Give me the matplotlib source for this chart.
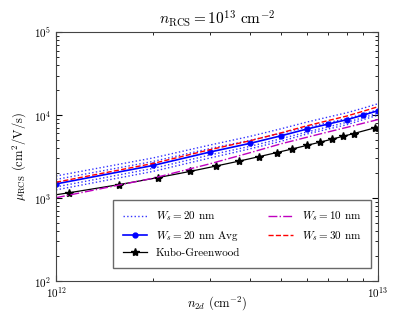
import numpy as np
import matplotlib
matplotlib.use('Agg')
import matplotlib.pyplot as plt
from matplotlib.ticker import NullFormatter

plt.rcParams['font.family'] = 'serif'
plt.rcParams['font.serif'] = ['cmr10']
plt.rcParams['mathtext.fontset'] = 'cm'
plt.rcParams['axes.formatter.use_mathtext'] = True
plt.rcParams['axes.unicode_minus'] = False

# densities (1e12 cm^-2)
n_avg = [1, 2, 3, 4, 5, 6, 7, 8, 9, 10]

# W_s = 20 nm, individual realizations
mu_20_runs = [
    [1845, 3041, 4345, 5534, 6839, 8222, 9462, 10670, 12130, 13710],
    [1675, 2761, 3945, 4955, 6039, 7161, 8128, 9078, 10280, 11610],
    [1361, 2275, 3296, 4198, 5188, 6237, 7211, 8185, 9333, 10540],
    [1253, 2094, 3034, 3917, 4842, 5902, 6792, 7656, 8831, 9977],
]
mu_20_avg = [1480, 2470, 3580, 4560, 5630, 6780, 7800, 8800, 10000, 11300]
mu_10 = [1009, 1734, 2582, 3516, 4508, 5395, 6266, 7112, 7980, 8831]
mu_30 = [1550, 2610, 3820, 4900, 6110, 7410, 8590, 9740, 11140, 12620]

# Kubo-Greenwood
n_kubo = [1.0, 1.1, 1.57, 2.07, 2.6, 3.14, 3.7, 4.27, 4.84, 5.42, 6.01,
          6.61, 7.21, 7.8, 8.41, 9.75, 10.0]
mu_kubo = [1096, 1159, 1452, 1762, 2089, 2432, 2786, 3155, 3530, 3908, 4315,
           4720, 5140, 5560, 5998, 7000, 7194]

n_avg = np.array(n_avg) * 1e12
n_kubo = np.array(n_kubo) * 1e12

fig = plt.figure(figsize=(4.15, 3.12), dpi=100)
ax = fig.add_axes([0.135, 0.0994, 0.776, 0.7976])

for i, run in enumerate(mu_20_runs):
    ax.plot(n_avg, run, ':', color='blue', lw=1.0, alpha=0.8,
            label=r'$W_s = 20$ nm' if i == 0 else None)
ax.plot(n_avg, mu_20_avg, '-o', color='blue', lw=1.2, ms=3.5,
        label=r'$W_s = 20$ nm Avg')
ax.plot(n_kubo, mu_kubo, '-*', color='black', lw=0.9, ms=6,
        markevery=list(range(1, len(n_kubo) - 1)), label='Kubo-Greenwood')
ax.plot(n_avg, mu_10, '-.', color='m', lw=1.0, label=r'$W_s = 10$ nm')
ax.plot(n_avg, mu_30, '--', color='red', lw=1.0, label=r'$W_s = 30$ nm')

ax.set_xscale('log')
ax.set_yscale('log')
ax.set_xlim(1e12, 1e13)
ax.set_ylim(1e2, 1e5)
ax.xaxis.set_minor_formatter(NullFormatter())
ax.yaxis.set_minor_formatter(NullFormatter())

ax.tick_params(which='both', direction='in', top=True, right=True, labelsize=8)
ax.tick_params(which='major', length=4)
ax.tick_params(which='minor', length=2)
ax.tick_params(axis='x', pad=3)
for s in ax.spines.values():
    s.set_color('#444444')

ax.set_title(r'$n_{\rm RCS} = 10^{13}\ {\rm cm}^{-2}$', fontsize=11)
ax.set_xlabel(r'$n_{2d}$ (cm$^{-2}$)', fontsize=9, labelpad=-4)
ax.set_ylabel(r'$\mu_{\rm RCS}$ (cm$^2$/V/s)', fontsize=9)

leg = ax.legend(loc='lower right', bbox_to_anchor=(0.978, 0.051), borderaxespad=0,
                ncol=2, fontsize=8, fancybox=False, handlelength=2.2,
                columnspacing=2.5, borderpad=0.9)
leg.get_frame().set_edgecolor('#444444')

fig.savefig('out.png', dpi=100)
